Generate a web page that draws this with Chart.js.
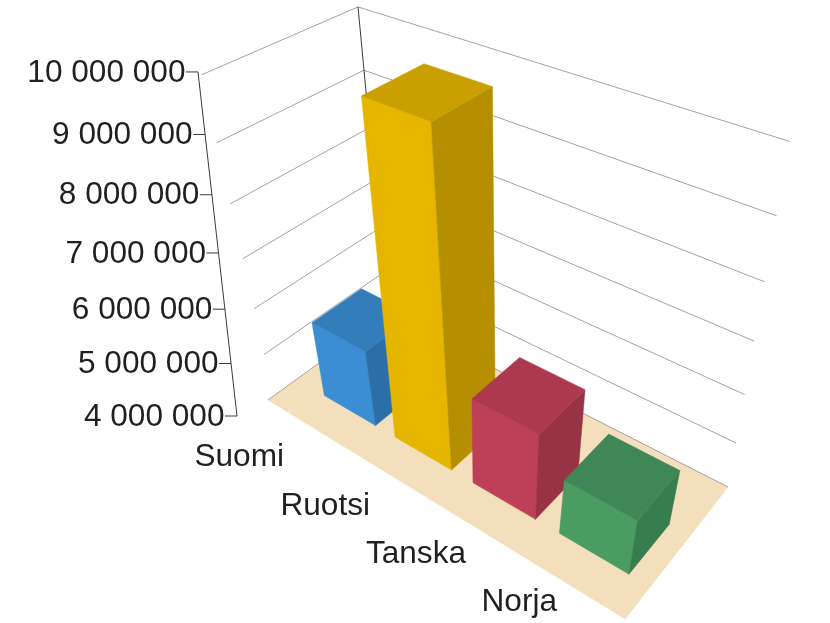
<!DOCTYPE html>
<html>
<head>
<meta charset="utf-8">
<style>html,body{margin:0;padding:0;background:#fff}canvas{display:block}</style>
<script src="https://cdn.jsdelivr.net/npm/chart.js@4/dist/chart.umd.js"></script>
</head>
<body>
<canvas id="c" width="830" height="623"></canvas>
<script>
const categories = ['Suomi', 'Ruotsi', 'Tanska', 'Norja'];
const population = [5400000, 9500000, 5600000, 5000000];
const axisMin = 4000000, axisMax = 10000000, axisStep = 1000000;
const frontColors = ['#3b8ed3', '#e5b500', '#be4058', '#4a9c62'];
const topColors   = ['#337dba', '#c9a000', '#ac394e', '#3f8756'];
const sideColors  = ['#2b6fa8', '#b58f00', '#983345', '#387d4e'];
const labelNudgeX = [0, -5, 0, 0];

// camera: vanishing points + weights of the 3D box (u along categories, w depth, h height)
const O = [268, 400], VU = [-1128, -456], VW = [1485, -482], VH = [484, 1340];
const aU = -0.2037, aW = 0.1084, aH = -0.2551;
function project(u, w, h) {
  const d = aU*u + aW*w + aH*h + 1;
  return [(aU*u*VU[0] + aW*w*VW[0] + aH*h*VH[0] + O[0]) / d,
          (aU*u*VU[1] + aW*w*VW[1] + aH*h*VH[1] + O[1]) / d];
}
function poly(ctx, pts, fill) {
  ctx.beginPath();
  pts.forEach((p, i) => { const q = project(p[0], p[1], p[2]); i ? ctx.lineTo(q[0], q[1]) : ctx.moveTo(q[0], q[1]); });
  ctx.closePath();
  ctx.fillStyle = fill; ctx.fill();
  ctx.strokeStyle = fill; ctx.lineWidth = 0.5; ctx.stroke();
}
function seg(ctx, a, b, color, width) {
  const p = project(a[0], a[1], a[2]), q = project(b[0], b[1], b[2]);
  ctx.beginPath(); ctx.moveTo(p[0], p[1]); ctx.lineTo(q[0], q[1]);
  ctx.strokeStyle = color; ctx.lineWidth = width; ctx.stroke();
}
const FONT = '31.6px "Liberation Sans", Arial, sans-serif';
const TEXT = '#231f20', GRID = '#a3a3a3', AXIS = '#3a3a3c';

const box3d = {
  id: 'box3d',
  beforeDatasetsDraw(chart) {
    const ctx = chart.ctx, xs = chart.scales.x, ys = chart.scales.y;
    const dec = v => ys.getDecimalForPixel(ys.getPixelForValue(v));
    ctx.save();
    // floor
    poly(ctx, [[0,0,0],[1,0,0],[1,1,0],[0,1,0]], '#f3dfbb');
    // walls grid
    ys.ticks.forEach(t => {
      const h = dec(t.value);
      seg(ctx, [0, h > 0 ? 0.04 : 0, h], [0, 1, h], GRID, 1);
      seg(ctx, [0, 1, h], [1 - 0.057*h, 1, h], GRID, 1);
    });
    seg(ctx, [0,1,0], [0,1,1], AXIS, 1);
    // value axis with its own slanted line
    const tickY = d => (416 - 351.2*d) / (1 - 0.0994*d);
    const tickX = y => 198 + (y - 72) * 39 / 344;
    ctx.beginPath(); ctx.moveTo(tickX(72), 72); ctx.lineTo(tickX(416), 416);
    ctx.strokeStyle = AXIS; ctx.lineWidth = 1; ctx.stroke();
    ctx.font = FONT; ctx.fillStyle = TEXT; ctx.textBaseline = 'middle'; ctx.textAlign = 'right';
    ys.ticks.forEach(t => {
      const y = tickY(dec(t.value)), x = tickX(y);
      ctx.beginPath(); ctx.moveTo(x - 12, y); ctx.lineTo(x, y);
      ctx.strokeStyle = AXIS; ctx.stroke();
      ctx.fillStyle = TEXT;
      ctx.fillText(t.label, x - 12.5, y + 1);
    });
    // bars, near-right ones over the others
    const data = chart.data.datasets[0].data;
    data.forEach((v, i) => {
      const t = xs.getDecimalForPixel(xs.getPixelForValue(i));
      const u0 = 0.0655 + 0.916*t - 0.084, u1 = u0 + 0.168;
      const w0 = 0.222, w1 = 0.6;
      const h = 1.094*dec(v) + 0.0267;
      const u1t = u1 - 0.015*h;
      poly(ctx, [[u0,w0,0],[u1,w0,0],[u1t,w0,h],[u0,w0,h]], frontColors[i]);
      poly(ctx, [[u1,w0,0],[u1,w1,0],[u1t,w1,h],[u1t,w0,h]], sideColors[i]);
      poly(ctx, [[u0,w0,h],[u1t,w0,h],[u1t,w1,h],[u0,w1,h]], topColors[i]);
      ctx.font = FONT; ctx.fillStyle = TEXT; ctx.textAlign = 'right'; ctx.textBaseline = 'middle';
      ctx.fillText(categories[i], 284 + (t - 0.125)*364 + labelNudgeX[i], 457.5 + (t - 0.125)*193.3);
    });
    ctx.restore();
    return false;
  }
};

new Chart(document.getElementById('c'), {
  type: 'bar',
  data: { labels: categories, datasets: [{ data: population, backgroundColor: frontColors }] },
  plugins: [box3d],
  options: {
    responsive: false, animation: false,
    layout: { padding: 0 },
    plugins: { legend: { display: false }, tooltip: { enabled: false } },
    scales: {
      x: { display: false },
      y: { display: false, min: axisMin, max: axisMax,
           ticks: { stepSize: axisStep, autoSkip: false,
                    callback: v => String(v).replace(/\B(?=(\d{3})+$)/g, ' ') } }
    }
  }
});
</script>
</body>
</html>
